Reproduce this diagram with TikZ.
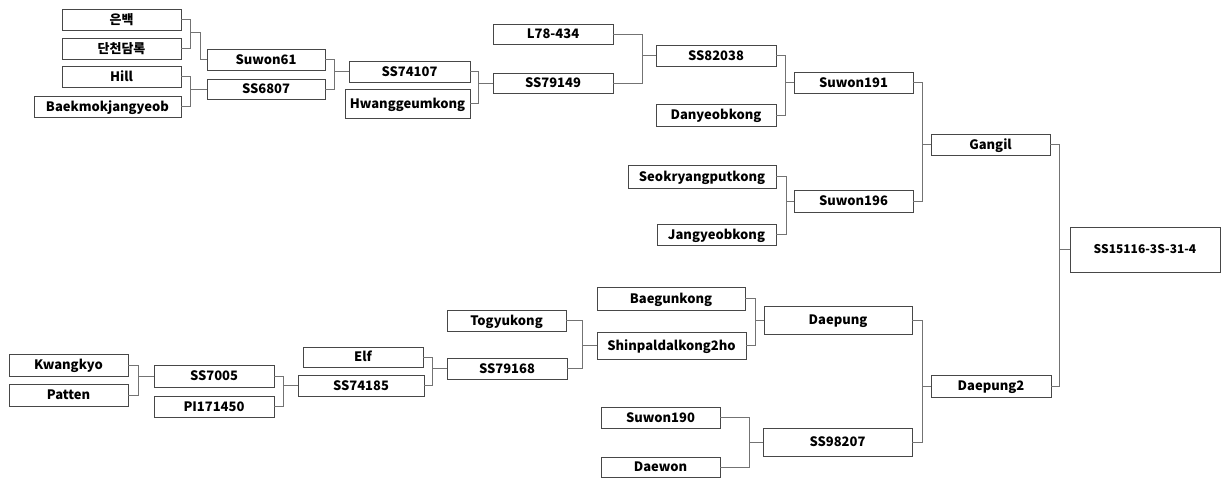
\documentclass[tikz,border=0pt]{standalone}
\usepackage{fontspec}
\newfontfamily\boxfont{Noto Sans CJK KR}

\begin{document}
\begin{tikzpicture}[x=1pt,y=-1pt,
    box/.style={draw=black!72,line width=0.9pt,inner sep=0pt,
      minimum width=119pt,minimum height=21pt,text height=9.5pt,text depth=0pt,
      font=\boxfont\bfseries\fontsize{13}{16}\selectfont},
    link/.style={draw=black!55,line width=0.9pt}]
    \useasboundingbox (0,0) rectangle (1221,478);

    % Upper bracket
    \node[box] (eunbaek) at (121.5,19.5) {은백};
    \node[box] (dancheon) at (121.5,48.5) {단천담록};
    \node[box] (hill) at (121.5,76.5) {Hill};
    \node[box,minimum width=147pt] (baekmok) at (107.5,106.5) {Baekmokjangyeob};
    \node[box,minimum width=118pt] (suwon61) at (266,59.5) {Suwon61};
    \node[box,minimum width=118pt,minimum height=20pt] (ss6807) at (266,89) {SS6807};
    \node[box,minimum width=121pt] (ss74107) at (409.5,71.5) {SS74107};
    \node[box,minimum width=125pt,minimum height=29pt] (hwang) at (407.5,103.5) {Hwanggeumkong};
    \node[box,minimum width=120pt,minimum height=20pt] (l78) at (553,34) {L78-434};
    \node[box,minimum width=120pt,minimum height=20pt] (ss79149) at (553,83) {SS79149};
    \node[box,minimum width=120pt] (ss82038) at (716,55.5) {SS82038};
    \node[box,minimum width=120pt,minimum height=22pt] (danyeob) at (716,115) {Danyeobkong};
    \node[box] (suwon191) at (853.5,82.5) {Suwon191};
    \node[box,minimum width=148pt,minimum height=23pt] (seokryang) at (702,176.5) {Seokryangputkong};
    \node[box,minimum height=22pt] (suwon196) at (853.5,201) {Suwon196};
    \node[box] (jangyeob) at (716.5,234.5) {Jangyeobkong};
    \node[box] (gangil) at (990.5,144.5) {Gangil};

    % Final
    \node[box,minimum width=150pt,minimum height=45pt,text height=8.8pt,
      font=\boxfont\bfseries\fontsize{12}{15}\selectfont] (ss15116) at (1145,249.5) {SS15116-3S-31-4};

    % Lower bracket
    \node[box,minimum height=22pt] (kwangkyo) at (68.5,365) {Kwangkyo};
    \node[box,minimum height=22pt] (patten) at (68.5,395) {Patten};
    \node[box,minimum width=120pt,minimum height=22pt] (ss7005) at (214,376) {SS7005};
    \node[box,minimum width=120pt] (pi171450) at (214,406.5) {PI171450};
    \node[box,minimum width=120pt,minimum height=20pt] (elf) at (363,357) {Elf};
    \node[box,minimum width=126pt] (ss74185) at (361,385.5) {SS74185};
    \node[box] (togyu) at (506.5,320.5) {Togyukong};
    \node[box,minimum width=120pt] (ss79168) at (507,368.5) {SS79168};
    \node[box,minimum width=148pt,minimum height=23pt] (baegun) at (671,298.5) {Baegunkong};
    \node[box,minimum width=149pt,minimum height=27pt] (shinpal) at (671.5,345.5) {Shinpaldalkong2ho};
    \node[box,minimum width=148pt,minimum height=28pt] (daepung) at (838,320) {Daepung};
    \node[box] (suwon190) at (660.5,417.5) {Suwon190};
    \node[box,minimum height=20pt] (daewon) at (660.5,467) {Daewon};
    \node[box,minimum width=149pt,minimum height=28pt] (ss98207) at (837.5,442) {SS98207};
    \node[box,minimum width=120pt,minimum height=22pt] (daepung2) at (991,386) {Daepung2};

    % Brackets: upper/lower/winner/x of the joining line
    \foreach \a/\b/\c/\x in {hill/baekmok/ss6807/190,
        suwon61/ss6807/ss74107/334, ss74107/hwang/ss79149/478,
        l78/ss79149/ss82038/642, ss82038/danyeob/suwon191/785,
        seokryang/jangyeob/suwon196/786, suwon191/suwon196/gangil/922,
        gangil/daepung2/ss15116/1059, kwangkyo/patten/ss7005/138,
        ss7005/pi171450/ss74185/283, elf/ss74185/ss79168/432,
        togyu/ss79168/shinpal/582, baegun/shinpal/daepung/755,
        suwon190/daewon/ss98207/749, daepung/ss98207/daepung2/922} {
      \coordinate (j) at (\x,0);
      \draw[link] (\a.east) -| (j |- \b.east) -- (\b.east);
      \draw[link] (j |- \c.west) -- (\c.west);
    }

    % First pair joins lower down
    \coordinate (j) at (190,0);
    \draw[link] (eunbaek.east) -| (j |- dancheon.east) -- (dancheon.east);
    \coordinate (jog) at (190,32);
    \draw[link] (jog) -- ++(10,0) |- (suwon61.west);

  \end{tikzpicture}
\end{document}
